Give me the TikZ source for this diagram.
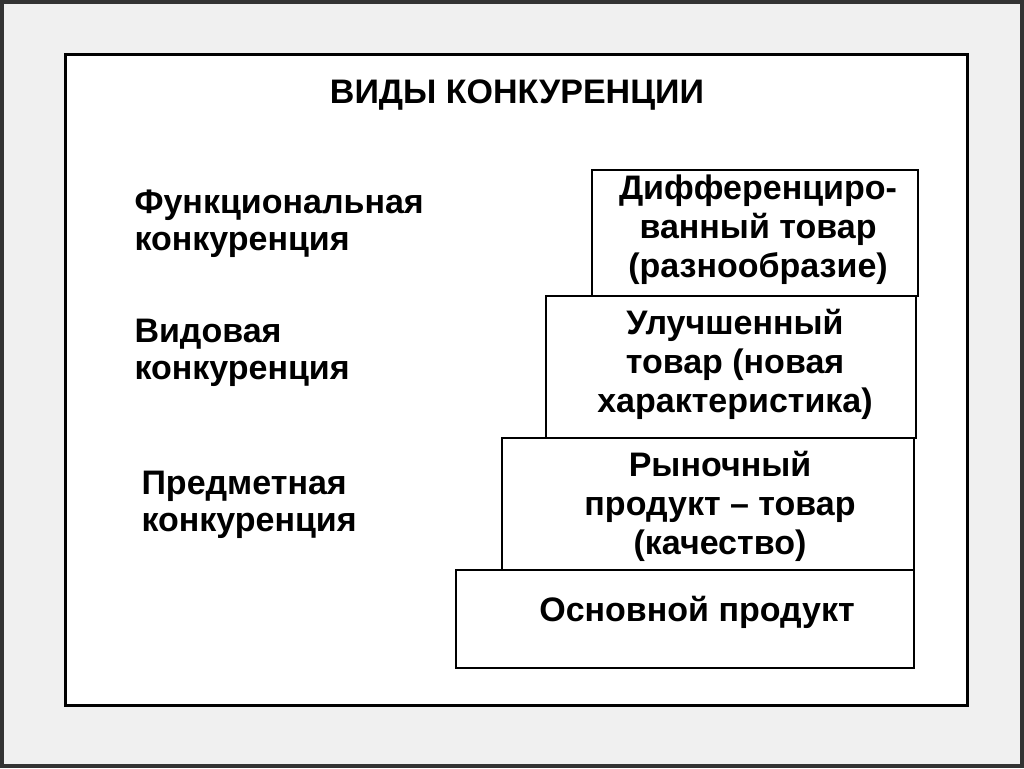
\documentclass[tikz,border=0pt]{standalone}
\usepackage{fontspec}
\setmainfont{Liberation Sans}
\begin{document}
\begin{tikzpicture}[x=1pt,y=-1pt,
  box/.style={draw=black,line width=2.5pt,fill=white,inner sep=0pt},
  btxt/.style={font=\bfseries\fontsize{34}{39}\selectfont,align=center},
  ltxt/.style={font=\bfseries\fontsize{34}{37}\selectfont,align=left,anchor=west}]
\fill[gray!12,draw=black!80,line width=4pt] (2,2) rectangle (1022,766);
\useasboundingbox (0,0) rectangle (1024,768);
\draw[line width=3pt,fill=white] (65,55) rectangle (967,705);
\node[font=\bfseries\fontsize{34}{40}\selectfont] (title) at (517,95) {ВИДЫ КОНКУРЕНЦИИ};
\draw[box] (592,170) rectangle (918,296);
\draw[box] (546,296) rectangle (916,438);
\draw[box] (502,438) rectangle (914,570);
\draw[box] (456,570) rectangle (914,668);
\node[btxt] (b1) at (758,230) {Дифференциро-\\ванный товар\\(разнообразие)};
\node[btxt] (b2) at (735,364) {Улучшенный\\товар (новая\\характеристика)};
\node[btxt] (b3) at (720,506) {Рыночный\\продукт – товар\\(качество)};
\node[btxt] (b4) at (697,612) {Основной продукт};
\node[ltxt] (l1) at (131,224) {Функциональная\\конкуренция};
\node[ltxt] (l2) at (131,353) {Видовая\\конкуренция};
\node[ltxt] (l3) at (138,505) {Предметная\\конкуренция};
\end{tikzpicture}
\end{document}
